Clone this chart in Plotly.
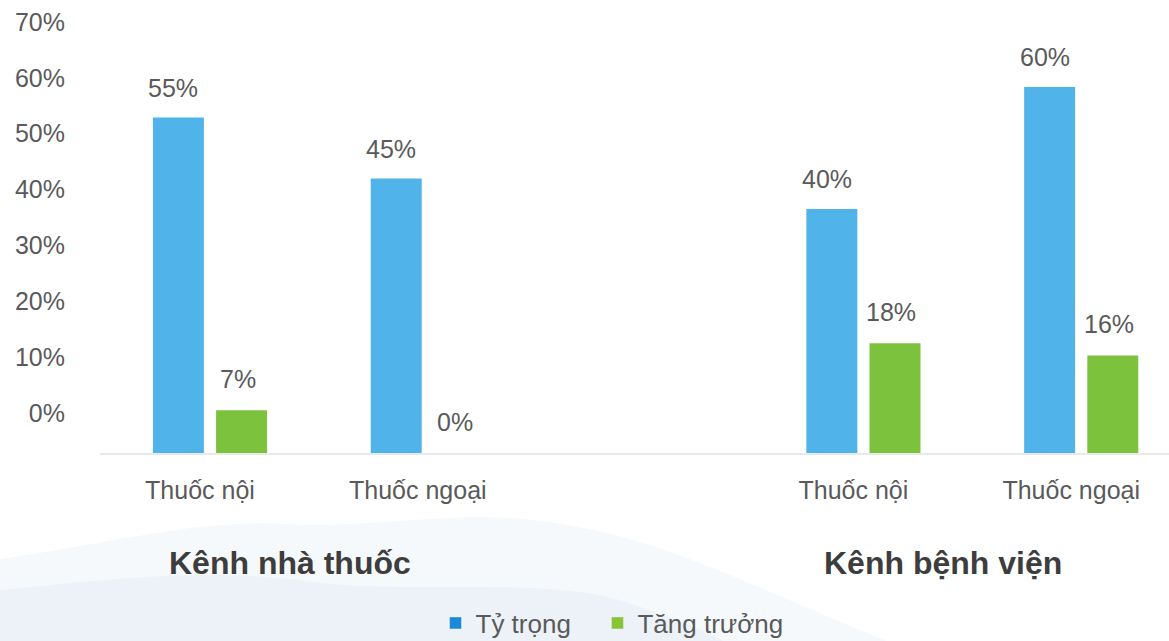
import plotly.graph_objects as go

# Market share ("Tỷ trọng") and growth ("Tăng trưởng") by channel and drug origin
channels = ["Kênh nhà thuốc", "Kênh bệnh viện"]
drug_types = ["Thuốc nội", "Thuốc ngoại"]
share = [55, 45, 40, 60]      # Tỷ trọng (%)
growth = [7, 0, 18, 16]       # Tăng trưởng (%)
axis_ticks = [0, 10, 20, 30, 40, 50, 60, 70]

# slot positions: two drug types per channel, one empty slot between channels
slots = []
for ci, _ in enumerate(channels):
    for di, _ in enumerate(drug_types):
        slots.append(ci * (len(drug_types) + 1) + di)
cat_labels = [d for _ in channels for d in drug_types]

OFFSET = 0.145
BAR_W = 0.234
BLUE = "#50b3e9"
GREEN = "#7cc23c"
LEG_BLUE = "#1b8ad6"
LEG_GREEN = "#88c534"
TXT = "#5a5a5a"
FONT = "Liberation Sans, Arial, sans-serif"

fig = go.Figure()

fig.add_trace(go.Bar(
    x=[s - OFFSET for s in slots], y=share, width=BAR_W,
    marker=dict(color=BLUE, line=dict(width=0)),
    showlegend=False, hoverinfo="skip",
))
fig.add_trace(go.Bar(
    x=[s + OFFSET for s in slots], y=growth, width=BAR_W,
    marker=dict(color=GREEN, line=dict(width=0)),
    showlegend=False, hoverinfo="skip",
))

# legend entries, one legend box each so their spacing can be set
fig.add_trace(go.Bar(x=[None], y=[None], name="Tỷ trọng", marker_color=LEG_BLUE,
                     legend="legend"))
fig.add_trace(go.Bar(x=[None], y=[None], name="Tăng trưởng", marker_color=LEG_GREEN,
                     legend="legend2"))

# dummy trace carrying the left percentage axis
fig.add_trace(go.Scatter(x=[None], y=[None], yaxis="y2", showlegend=False))

annotations = []
for s, v in zip(slots, share):
    annotations.append(dict(x=s - OFFSET, y=v, text=f"{v}%", showarrow=False,
                            xref="x", yref="y", yshift=30, xshift=-5,
                            font=dict(family=FONT, size=25, color=TXT)))
for s, v in zip(slots, growth):
    annotations.append(dict(x=s + OFFSET, y=v, text=f"{v}%", showarrow=False,
                            xref="x", yref="y", yshift=31, xshift=-4,
                            font=dict(family=FONT, size=25, color=TXT)))

# channel titles under each pair of categories
n = len(drug_types)
for ci, ch in enumerate(channels):
    centre = sum(slots[ci * n:(ci + 1) * n]) / n
    annotations.append(dict(x=centre, y=-0.2483, xref="x", yref="paper",
                            text=f"<b>{ch}</b>", showarrow=False, xshift=-29,
                            yanchor="middle",
                            font=dict(family=FONT, size=32, color="#3d3d3d")))

# faint watercolor hills behind the lower part
shapes = [
    dict(type="path", xref="paper", yref="paper", layer="below", line=dict(width=0),
         fillcolor="rgba(222,233,242,0.28)",
         path="M -0.06,-0.43 L -0.06,-0.24 C 0.05,-0.2 0.12,-0.15 0.2,-0.16 "
              "C 0.3,-0.17 0.36,-0.12 0.45,-0.16 C 0.55,-0.2 0.62,-0.3 0.75,-0.43 Z"),
    dict(type="path", xref="paper", yref="paper", layer="below", line=dict(width=0),
         fillcolor="rgba(214,228,239,0.28)",
         path="M -0.06,-0.43 L -0.06,-0.31 C 0.05,-0.28 0.14,-0.26 0.22,-0.29 "
              "C 0.32,-0.32 0.42,-0.28 0.5,-0.33 C 0.55,-0.37 0.58,-0.4 0.6,-0.43 Z"),
]

legend_style = dict(orientation="h", xanchor="left", yref="container",
                    y=(641 - 623) / 641, yanchor="middle",
                    font=dict(family=FONT, size=26, color=TXT), itemwidth=30,
                    bgcolor="rgba(0,0,0,0)")

fig.update_layout(
    width=1169, height=641,
    margin=dict(l=65, r=0, t=10, b=188, autoexpand=False),
    paper_bgcolor="white", plot_bgcolor="rgba(0,0,0,0)",
    barmode="overlay",
    font=dict(family=FONT, color=TXT),
    xaxis=dict(
        domain=[35 / 1104, 1], range=[-0.505, 4.403],
        tickmode="array", tickvals=slots, ticktext=cat_labels,
        tickfont=dict(size=25, color=TXT), ticks="",
        ticklabelshift=-10, ticklabelstandoff=14,
        showgrid=False, zeroline=False,
        showline=True, linecolor="#e9e9e9", linewidth=2,
    ),
    yaxis=dict(range=[0, 443 / 6.1], visible=False, fixedrange=True),
    yaxis2=dict(
        overlaying="y", anchor="free", position=0, side="left",
        range=[-7.16, 72.14], tickvals=axis_ticks,
        ticktext=[f"{t}%" for t in axis_ticks],
        tickfont=dict(size=25, color=TXT), ticks="",
        showgrid=False, zeroline=False, showline=False,
    ),
    legend=dict(x=0.3356, **legend_style),
    legend2=dict(x=0.4823, **legend_style),
    annotations=annotations,
    shapes=shapes,
)

fig.write_html("out.html")
